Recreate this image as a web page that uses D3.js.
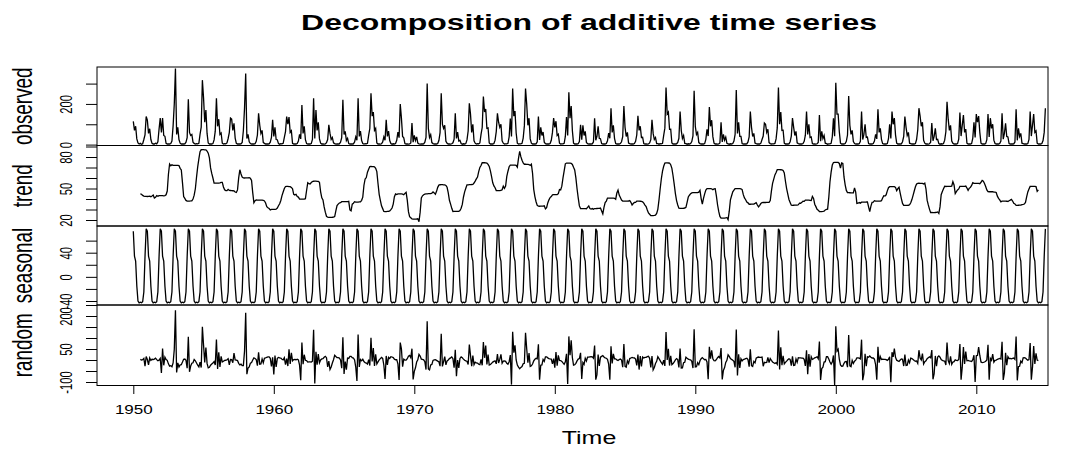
<!DOCTYPE html>
<html lang="en">
<head>
<meta charset="utf-8">
<title>Decomposition of additive time series</title>
<script src="https://cdn.jsdelivr.net/npm/d3@7"></script>
<style>
  body { margin: 0; background: #fff; }
  svg { display: block; font-family: "Liberation Sans", Arial, sans-serif; }
  .box { fill: none; stroke: #000; stroke-width: 1; }
  .series { fill: none; stroke: #000; stroke-width: 1.3; }
  .tick line { stroke: #000; }
</style>
</head>
<body>
<svg id="chart" width="1075" height="450"></svg>
<script>
var startYear = 1950;
var observed = [
  [114, 70, 90, 28, 8, 3,     6, 2, 4, 25, 48, 138],   // 1950
  [120, 55, 78, 25, 6, 3,     3, 7, 4, 14, 76, 130],
  [60, 130, 45, 41, 6, 3,     4, 3, 5, 17, 92, 200],
  [374, 50, 85, 25, 7, 3,     4, 3, 4, 12, 34, 223],
  [60, 45, 50, 12, 6, 3,      5, 4, 6, 50, 86, 317],
  [230, 110, 170, 55, 8, 3,   4, 3, 5, 23, 66, 228],
  [90, 125, 50, 57, 7, 3,     5, 4, 8, 30, 59, 130],
  [125, 70, 105, 32, 6, 3,    3, 3, 4, 10, 68, 180],
  [350, 30, 50, 14, 5, 3,     4, 3, 4, 16, 47, 154],
  [95, 55, 70, 11, 6, 3,      3, 3, 4, 12, 35, 122],
  [40, 85, 25, 24, 5, 2,      5, 4, 6, 35, 64, 138],   // 1960
  [100, 135, 60, 68, 6, 3,    4, 3, 5, 17, 50, 28],
  [195, 55, 90, 24, 5, 3,     4, 3, 5, 26, 228, 30],
  [170, 70, 110, 28, 7, 3,    3, 2, 3, 9, 25, 97],
  [55, 25, 35, 9, 5, 2,       3, 3, 4, 12, 34, 220],
  [50, 65, 20, 31, 5, 3,      3, 3, 4, 13, 38, 21],
  [228, 40, 66, 20, 5, 3,     5, 4, 6, 45, 79, 252],
  [140, 160, 70, 80, 8, 3,    3, 2, 4, 13, 38, 21],
  [122, 40, 66, 20, 5, 2,     4, 3, 5, 21, 61, 34],
  [200, 130, 40, 33, 5, 3,    3, 2, 3, 8, 106, 12],
  [45, 20, 38, 7, 4, 2,       3, 3, 4, 12, 35, 301],   // 1970
  [80, 35, 49, 10, 5, 3,      4, 3, 5, 20, 59, 252],
  [100, 80, 95, 16, 7, 3,     3, 2, 4, 9, 27, 154],
  [30, 62, 18, 21, 5, 2,      4, 3, 5, 23, 67, 203],
  [150, 60, 100, 19, 7, 3,    5, 4, 8, 50, 84, 236],
  [160, 175, 80, 82, 8, 3,    4, 3, 5, 22, 64, 154],
  [110, 85, 100, 19, 7, 3,    4, 4, 6, 38, 128, 40],
  [276, 140, 165, 57, 7, 3,   4, 4, 6, 32, 92, 276],
  [200, 95, 130, 28, 7, 3,    3, 3, 4, 14, 138, 23],
  [85, 45, 62, 12, 5, 3,      4, 3, 5, 21, 60, 130],
  [85, 115, 45, 51, 7, 3,     4, 4, 6, 40, 136, 45],   // 1980
  [257, 130, 190, 69, 7, 3,   3, 3, 4, 15, 97, 24],
  [95, 45, 65, 11, 5, 3,      3, 3, 4, 13, 130, 21],
  [40, 90, 30, 29, 5, 3,      4, 3, 5, 19, 56, 31],
  [179, 60, 95, 31, 5, 3,     4, 3, 5, 14, 39, 190],
  [85, 40, 60, 8, 5, 3,       4, 3, 5, 16, 47, 142],
  [70, 90, 35, 36, 5, 3,      3, 2, 3, 8, 24, 122],
  [55, 25, 35, 5, 5, 2,       5, 4, 6, 45, 81, 281],
  [150, 160, 75, 76, 8, 3,    3, 3, 4, 11, 31, 163],
  [70, 30, 45, 6, 5, 2,       4, 3, 5, 15, 43, 265],
  [90, 50, 60, 10, 5, 3,      4, 3, 5, 26, 75, 42],    // 1990
  [185, 90, 120, 39, 7, 3,    3, 2, 3, 8, 110, 13],
  [50, 22, 37, 6, 4, 2,       4, 3, 5, 17, 50, 268],
  [55, 110, 40, 40, 5, 3,     3, 3, 4, 13, 38, 163],
  [85, 40, 55, 8, 5, 3,       4, 3, 7, 25, 42, 106],
  [100, 60, 75, 10, 5, 3,     4, 4, 6, 28, 82, 281],
  [100, 160, 70, 71, 7, 3,    3, 3, 4, 14, 42, 130],
  [85, 45, 65, 9, 5, 3,       4, 3, 5, 16, 46, 163],
  [50, 100, 35, 38, 5, 3,     3, 2, 4, 10, 146, 17],
  [65, 30, 45, 7, 5, 2,       4, 4, 6, 38, 129, 41],
  [304, 150, 150, 63, 7, 3,   4, 3, 5, 16, 47, 239],   // 2000
  [95, 50, 70, 15, 5, 3,      3, 3, 4, 16, 163, 25],
  [50, 100, 35, 37, 5, 3,     4, 3, 5, 17, 50, 28],
  [174, 60, 80, 26, 5, 3,     4, 3, 5, 29, 100, 30],
  [163, 100, 130, 48, 7, 3,   3, 3, 4, 14, 40, 138],
  [85, 45, 60, 7, 5, 3,       4, 3, 5, 25, 73, 179],
  [140, 90, 110, 21, 7, 3,    3, 2, 4, 12, 106, 19],
  [40, 80, 25, 26, 5, 2,      4, 3, 5, 22, 63, 211],
  [125, 70, 95, 17, 7, 3,     4, 3, 5, 27, 158, 42],
  [95, 145, 60, 76, 7, 3,     4, 3, 5, 32, 110, 35],
  [150, 110, 140, 60, 7, 3,   4, 3, 5, 24, 150, 37],   // 2010
  [130, 80, 100, 22, 5, 3,    4, 3, 5, 17, 154, 27],
  [55, 105, 40, 38, 5, 3,     3, 3, 4, 13, 174, 21],
  [80, 40, 55, 7, 5, 3,       4, 3, 5, 26, 163, 42],
  [95, 150, 60, 67, 7, 3,     4, 3, 5, 20, 60, 179]    // 2014
];

var xTicks = [1950, 1960, 1970, 1980, 1990, 2000, 2010];
var obsTicks = [0, 100, 200, 300],            obsLabels = [0, 200];
var trendTicks = [20, 30, 40, 50, 60, 70, 80, 90], trendLabels = [20, 50, 80];
var seasTicks = [-40, -20, 0, 20, 40, 60],    seasLabels = [-40, 0, 40];
var randTicks = [-100, -50, 0, 50, 100, 150, 200, 250], randLabels = [-100, 50, 200];

// ---- classical additive decomposition (same as R's decompose) ----
var x = [].concat.apply([], observed);
var n = x.length;
var time = x.map(function(v, i) { return startYear + i / 12; });
var trend = x.map(function(v, i) {
  if (i < 6 || i > n - 7) return NaN;
  return (0.5 * x[i - 6] + d3.sum(x.slice(i - 5, i + 6)) + 0.5 * x[i + 6]) / 12;
});
var figure = d3.range(12).map(function(m) {
  return d3.mean(d3.range(m, n, 12).filter(function(i) { return !isNaN(trend[i]); }),
    function(i) { return x[i] - trend[i]; });
});
var figMean = d3.mean(figure);
figure = figure.map(function(f) { return f - figMean; });
var seasonal = x.map(function(v, i) { return figure[i % 12]; });
var random = x.map(function(v, i) { return x[i] - seasonal[i] - trend[i]; });

// ---- layout ----
var left = 97, right = 1048;
var svg = d3.select("#chart");

var xScale = d3.scaleLinear().domain([1950, 2010]).range([133.3, 976.3]);

var panels = [
  {name: "observed", values: x,        top: 67,    bottom: 145.5, dom: [0, 300],   rng: [144.6, 83.6], ticks: obsTicks,   labels: obsLabels},
  {name: "trend",    values: trend,    top: 145.5, bottom: 226,   dom: [20, 80],   rng: [220, 157],    ticks: trendTicks, labels: trendLabels},
  {name: "seasonal", values: seasonal, top: 226,   bottom: 305,   dom: [-40, 40],  rng: [301, 252.7],  ticks: seasTicks,  labels: seasLabels},
  {name: "random",   values: random,   top: 305,   bottom: 385.5, dom: [-100, 200], rng: [382, 316],   ticks: randTicks,  labels: randLabels}
];

panels.forEach(function(p, k) {
  var y = d3.scaleLinear().domain(p.dom).range(p.rng);

  svg.append("clipPath").attr("id", "clip" + k)
    .append("rect")
    .attr("x", left).attr("y", p.top)
    .attr("width", right - left).attr("height", p.bottom - p.top);

  var line = d3.line()
    .defined(function(d, i) { return !isNaN(p.values[i]); })
    .x(function(d, i) { return xScale(time[i]); })
    .y(function(d, i) { return y(p.values[i]); });

  svg.append("path")
    .datum(p.values)
    .attr("class", "series")
    .attr("clip-path", "url(#clip" + k + ")")
    .attr("d", line);

  svg.append("rect")
    .attr("class", "box")
    .attr("x", left).attr("y", p.top)
    .attr("width", right - left).attr("height", p.bottom - p.top);

  var axis = d3.axisLeft(y)
    .tickValues(p.ticks)
    .tickSize(11)
    .tickSizeOuter(0)
    .tickFormat(function(d) { return p.labels.indexOf(d) >= 0 ? String(d) : ""; });

  var g = svg.append("g")
    .attr("transform", "translate(" + left + ",0)")
    .call(axis);
  g.select(".domain").remove();
  g.selectAll("text")
    .attr("x", null).attr("dy", null)
    .attr("text-anchor", "middle")
    .attr("fill", "#000")
    .style("font-size", "16px")
    .style("font-family", "'Liberation Sans', Arial, sans-serif")
    .attr("transform", "translate(-25.5,0) scale(1,0.7) rotate(-90)");

  // panel name
  svg.append("text")
    .attr("transform", "translate(32," + ((p.top + p.bottom) / 2) + ") scale(1,0.7) rotate(-90)")
    .attr("text-anchor", "middle")
    .style("font-size", "27px")
    .text(p.name);
});

// ---- time axis ----
var xAxis = d3.axisBottom(xScale)
  .tickValues(xTicks)
  .tickSize(8)
  .tickSizeOuter(0)
  .tickFormat(d3.format("d"));
var gx = svg.append("g").attr("transform", "translate(0,386)").call(xAxis);
gx.select(".domain").remove();
gx.selectAll("text")
  .attr("y", null).attr("dy", null)
  .attr("fill", "#000")
  .style("font-size", "17px")
  .style("font-family", "'Liberation Sans', Arial, sans-serif")
  .attr("transform", "translate(0,28) scale(1,0.7)");

svg.append("text")
  .attr("transform", "translate(589,444) scale(1,0.7)")
  .attr("text-anchor", "middle")
  .style("font-size", "25px")
  .text("Time");

svg.append("text")
  .attr("transform", "translate(589,30) scale(1,0.7)")
  .attr("text-anchor", "middle")
  .style("font-size", "32px")
  .style("font-weight", "bold")
  .text("Decomposition of additive time series");
</script>
</body>
</html>
